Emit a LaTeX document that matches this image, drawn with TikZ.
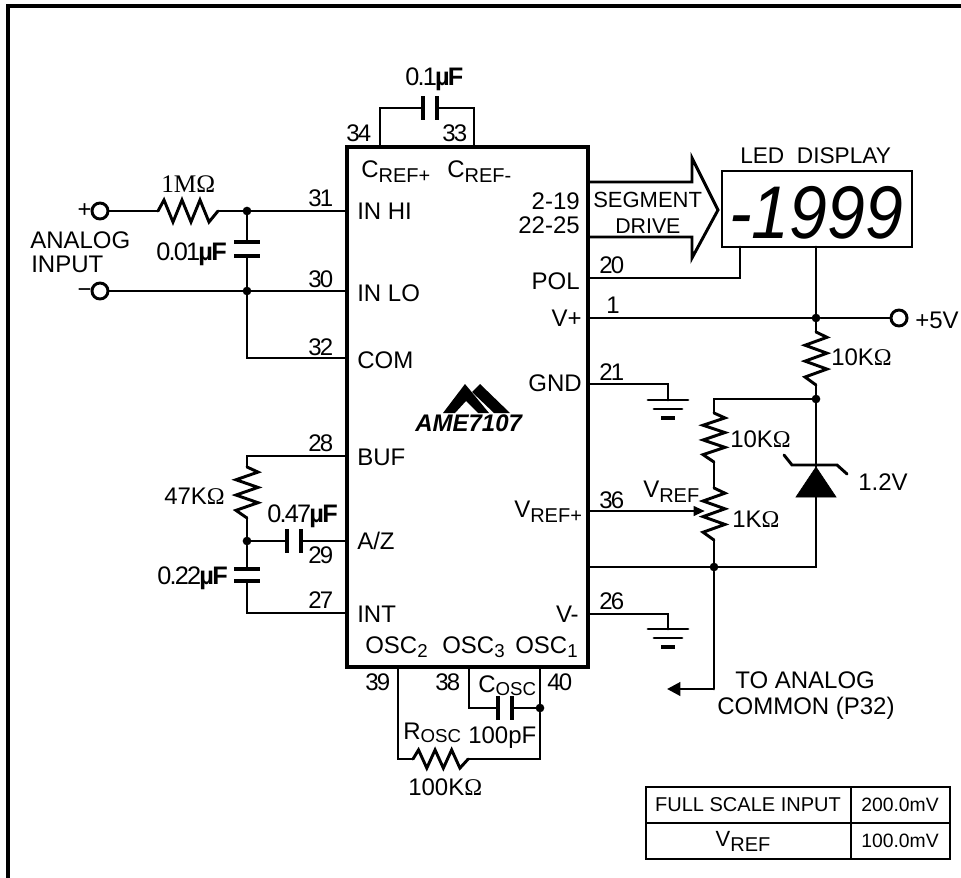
\documentclass[tikz,border=0pt]{standalone}
\usepackage{fontspec}
\usetikzlibrary{arrows.meta}
\setmainfont{Liberation Sans}
\newfontfamily\ohmfont{Liberation Serif}
\newfontfamily\tightfont[LetterSpace=-7]{Liberation Sans}
\newcommand{\ohmsign}{{\ohmfont Ω}}
\newcommand{\lowtext}[1]{\raisebox{-3.75pt}{\fontsize{15}{15}\selectfont #1}}
\newcommand{\osctext}[1]{\raisebox{-2.25pt}{\fontsize{14}{14}\selectfont #1}}
\newcommand{\digitsub}[1]{\raisebox{-3pt}{\fontsize{14}{14}\selectfont #1}}
\tikzset{
	wire/.style={line width=2.2pt,line cap=round,line join=miter},
	framewire/.style={line width=3pt},
	chipbox/.style={line width=3.25pt},
	platewire/.style={line width=2.4pt},
	junction/.style={circle,fill=black,inner sep=0pt,minimum size=6.5pt},
	terminal/.style={circle,draw,line width=2.2pt,fill=white,inner sep=0pt,minimum size=12pt},
	label/.style={anchor=base west,inner sep=0pt,font=\fontsize{18}{18}\selectfont},
	rlabel/.style={anchor=base east,inner sep=0pt,font=\fontsize{18}{18}\selectfont},
	pinlabel/.style={anchor=base west,inner sep=0pt,font=\fontsize{18}{18}\tightfont},
	caplabel/.style={anchor=base west,inner sep=0pt,font=\fontsize{19}{19}\tightfont},
	tablelabel/.style={inner sep=0pt,font=\fontsize{14.5}{14.5}\selectfont},
	reszig/.pic={\draw [wire] (0,0) -- (6,11) -- (15,-11) -- (24,11) -- (33,-11) -- (42,11) -- (51,-11) -- (60,0);},
	groundsym/.pic={
		\draw [wire] (-20,0) -- (20,0);
		\draw [wire] (-14,-9) -- (14,-9);
		\draw [line width=2.75pt] (-7,-18) -- (7,-18);
	},
}
\begin{document}
\begin{tikzpicture}[x=0.75pt,y=0.75pt,yscale=-1,xscale=1]
	\useasboundingbox (0,0) rectangle (961,878);

	%Frame, open at right and bottom
	\coordinate (framebl) at (8,878);
	\coordinate (frametl) at (8,6);
	\coordinate (frametr) at (961,6);
	\draw [framewire] (framebl) -- (frametl) -- (frametr);

	%Chip
	\coordinate (chipnw) at (347,147);
	\coordinate (chipse) at (588,667);
	\draw [chipbox] (chipnw) rectangle (chipse);

	%Pin ends on the chip and corners of the wires
	\foreach \nm/\x/\y in {p31/347/211,p30/347/291,p32/347/358,p28/347/456,p29/347/541,p27/347/613,
		p34/380/147,p33/474/147,c34/380/108,c33/474/108,
		p39/398/667,p38/469/667,p40/540/667,c39/398/759,c40/540/759,c38/469/708,
		p20/588/278,p1/588/318,p21/588/384,p36/588/511,p0/588/567,p26/588/614,
		segt/588/182,segb/588/237,
		r1a/158/211,r1b/218/211,r47a/247/467,r47b/247/518,c28/247/456,c27/247/613,
		rosca/413/759,roscb/468/759,
		led20/740/247,c20/740/278,ledv/816/247,
		r10a/816/332,r10b/816/385,c10/714/399,r10c/714/413,r10d/714/462,
		r1ka/714/488,r1kb/714/540,wiper/705/511,
		c0/816/567,ca/714/689,atip/667/689,
		g21/668/400,c21/668/384,g26/668/629,c26/668/614,
		zenera/816/467,zenerb/816/497}
		\coordinate (\nm) at (\x,\y);

	%Junctions and terminals
	\node [junction] (jin) at (247,211) {};
	\node [junction] (jlo) at (247,291) {};
	\node [junction] (jaz) at (247,541) {};
	\node [junction] (josc) at (540,708) {};
	\node [junction] (jvp) at (816,318) {};
	\node [junction] (jref) at (816,399) {};
	\node [junction] (jcom) at (714,567) {};
	\node [terminal] (tplus) at (100,211) {};
	\node [terminal] (tminus) at (100,291) {};
	\node [terminal] (tfive) at (899,318) {};

	%Input side
	\draw [wire] (tplus) -- (r1a);
	\pic at (r1a) {reszig};
	\draw [wire] (r1b) -- (jin) -- (p31);
	\draw [wire] (tminus) -- (jlo) -- (p30);
	\coordinate (capina) at (247,242);
	\coordinate (capinb) at (247,256);
	\draw [wire] (jin) -- (capina);
	\draw [wire] (capinb) -- (jlo);
	\draw [platewire] (234,242) -- (260,242) (234,256) -- (260,256);
	\draw [wire] (jlo) |- (p32);

	%Reference capacitor
	\coordinate (capta) at (423,108);
	\coordinate (captb) at (437,108);
	\draw [wire] (p34) -- (c34) -- (capta);
	\draw [wire] (captb) -- (c33) -- (p33);
	\draw [platewire] (423,96) -- (423,120) (437,96) -- (437,120);

	%Integrator side
	\draw [wire] (p28) -- (c28) -- (r47a);
	\pic [rotate=-90,scale=0.85,yscale=1.18] at (r47a) {reszig};
	\draw [wire] (r47b) -- (jaz);
	\coordinate (capza) at (287,541);
	\coordinate (capzb) at (301,541);
	\draw [wire] (jaz) -- (capza);
	\draw [wire] (capzb) -- (p29);
	\draw [platewire] (287,529) -- (287,553) (301,529) -- (301,553);
	\coordinate (capia) at (247,569);
	\coordinate (capib) at (247,581);
	\draw [wire] (jaz) -- (capia);
	\draw [wire] (capib) -- (c27) -- (p27);
	\draw [platewire] (234,569) -- (260,569) (234,581) -- (260,581);

	%Oscillator
	\draw [wire] (p39) -- (c39) -- (rosca);
	\pic [scale=0.92,yscale=0.9] at (rosca) {reszig};
	\draw [wire] (roscb) -- (c40) -- (josc) -- (p40);
	\coordinate (capoa) at (498,708);
	\coordinate (capob) at (512,708);
	\draw [wire] (p38) -- (c38) -- (capoa);
	\draw [wire] (capob) -- (josc);
	\draw [platewire] (498,696) -- (498,720) (512,696) -- (512,720);

	%Segment drive arrow and display
	\draw [wire,line join=miter] (segt) -- (692,182) -- (692,158) -- (718,210) -- (692,258) -- (692,237) -- (segb);
	\coordinate (lednw) at (722,171);
	\coordinate (ledse) at (912,247);
	\draw [wire,line cap=butt] (lednw) rectangle (ledse);
	\draw [wire] (p20) -- (c20) -- (led20);

	%Supply and reference
	\draw [wire] (ledv) -- (jvp);
	\draw [wire] (p1) -- (jvp) -- (tfive);
	\draw [wire] (jvp) -- (r10a);
	\pic [rotate=-90,scale=0.883,yscale=1.13] at (r10a) {reszig};
	\draw [wire] (r10b) -- (jref);
	\draw [wire] (jref) -- (c10) -- (r10c);
	\pic [rotate=-90,scale=0.817,yscale=1.22] at (r10c) {reszig};
	\draw [wire] (r10d) -- (r1ka);
	\pic [rotate=-90,scale=0.867,yscale=1.15] at (r1ka) {reszig};
	\draw [wire] (r1kb) -- (jcom);
	\draw [wire] (jref) -- (zenera);
	\draw [wire] (zenerb) -- (c0) -- (p0);
	\draw [fill=black,line width=0.5pt] (zenera) -- (836,497) -- (796,497) -- cycle;
	\draw [wire] (784,455) -- (792,465) -- (837,465) -- (847,474);
	\draw [wire,-{Triangle[length=8.5pt,width=7pt]}] (p36) -- (wiper);
	\draw [wire] (jcom) -- (ca);
	\draw [wire,line cap=butt,-{Triangle[length=10pt,width=10pt]}] (ca) -- (atip);

	%Grounds
	\draw [wire] (p21) -- (c21) -- (g21);
	\pic at (g21) {groundsym};
	\draw [wire] (p26) -- (c26) -- (g26);
	\pic at (g26) {groundsym};

	%Logo
	\fill (443,413) -- (465,384) -- (489,413) -- (478,413) -- (466,401) -- (455,413) -- cycle;
	\fill (472,392) -- (480,384) -- (510,413) -- (494,413) -- cycle;

	%Table
	\coordinate (tablenw) at (646,787);
	\coordinate (tablese) at (950,859);
	\coordinate (tablemt) at (851,787);
	\coordinate (tablemb) at (851,859);
	\coordinate (tableml) at (646,823);
	\coordinate (tablemr) at (950,823);
	\draw [wire,line cap=butt] (tablenw) rectangle (tablese);
	\draw [wire,line cap=butt] (tablemt) -- (tablemb);
	\draw [wire,line cap=butt] (tableml) -- (tablemr);

	% Text Node
	\node [caplabel] (txtcapt) at (405,85) {0.1\textbf{µF}};
	\node [pinlabel] (txt34) at (346,141) {34};
	\node [pinlabel] (txt33) at (442,141) {33};
	\node [label] (txtcrefp) at (361,177) {C\lowtext{REF+}};
	\node [label] (txtcrefm) at (447,177) {C\lowtext{REF-}};
	\node [label] (txtinhi) at (357,219) {IN HI};
	\node [label] (txtinlo) at (357,301) {IN LO};
	\node [label] (txtcom) at (357,368) {COM};
	\node [label] (txtbuf) at (357,465) {BUF};
	\node [label] (txtaz) at (357,549) {A/Z};
	\node [label] (txtint) at (357,622) {INT};
	\node [label] (txtosctwo) at (365,653) {OSC\digitsub{2}};
	\node [label] (txtoscthree) at (442,653) {OSC\digitsub{3}};
	\node [label] (txtoscone) at (515,653) {OSC\digitsub{1}};
	\node [pinlabel] (txt39) at (365,690) {39};
	\node [pinlabel] (txt38) at (435,690) {38};
	\node [pinlabel] (txt40) at (547,690) {40};
	\node [label] (txtcosc) at (478,692) {C\osctext{OSC}};
	\node [label] (txtrosc) at (403,739) {R\osctext{OSC}};
	\node [label] (txtcval) at (468,743) {100pF};
	\node [label] (txtrval) at (408,795) {100K\ohmsign};
	\node [label] (txt47k) at (164,504) {47K\ohmsign};
	\node [caplabel] (txtcaz) at (267,522) {0.47\textbf{µF}};
	\node [pinlabel] (txt29) at (308,563) {29};
	\node [caplabel] (txtcint) at (157,584) {0.22\textbf{µF}};
	\node [pinlabel] (txt28) at (308,451) {28};
	\node [pinlabel] (txt27) at (308,608) {27};
	\node [pinlabel] (txt31) at (308,206) {31};
	\node [pinlabel] (txt30) at (308,287) {30};
	\node [pinlabel] (txt32) at (308,355) {32};
	\node [label,font=\fontsize{19}{19}\ohmfont] (txt1m) at (161,192) {1MΩ};
	\node [caplabel] (txtcin) at (156,260) {0.01\textbf{µF}};
	\node [label] (txtanalog) at (30,248) {ANALOG};
	\node [label] (txtinput) at (31,272) {INPUT};
	\node [rlabel] (txtplus) at (92,217) {+};
	\node [rlabel] (txtminus) at (92,297) {−};
	\node [rlabel] (txtsegtop) at (580,209) {2-19};
	\node [rlabel] (txtsegbot) at (580,233) {22-25};
	\node [rlabel] (txtpol) at (580,289) {POL};
	\node [rlabel] (txtvp) at (582,326) {V+};
	\node [rlabel] (txtgnd) at (582,391) {GND};
	\node [label] (txtvrefp) at (514,517) {V\lowtext{REF+}};
	\node [rlabel] (txtvm) at (579,622) {V-};
	\node [pinlabel] (txt20) at (599,273) {20};
	\node [pinlabel] (txt1) at (606,313) {1};
	\node [pinlabel] (txt21) at (599,380) {21};
	\node [pinlabel] (txt36) at (599,508) {36};
	\node [pinlabel] (txt26) at (599,609) {26};
	\node [label] (txtvref) at (643,497) {V\lowtext{REF}};
	\node [label,font=\fontsize{16.5}{16.5}\selectfont] (txtsegment) at (593,207) {SEGMENT};
	\node [label,font=\fontsize{16}{16}\selectfont] (txtdrive) at (615,233) {DRIVE};
	\node [label,font=\fontsize{17}{17}\selectfont] (txtled) at (740,163) {LED\ \ DISPLAY};
	\node [anchor=base west,inner sep=0pt,font=\fontsize{56}{56}\selectfont\itshape] (txtdigits) at (729,238) {\scalebox{0.91}[1]{-1999}};
	\node [label] (txt10ka) at (831,365) {10K\ohmsign};
	\node [label] (txt10kb) at (730,447) {10K\ohmsign};
	\node [label] (txt1k) at (732,527) {1K\ohmsign};
	\node [label] (txt12v) at (858,490) {1.2V};
	\node [label] (txtfive) at (915,328) {+5V};
	\node [label] (txttoan) at (735,688) {TO ANALOG};
	\node [label] (txtcommon) at (717,714) {COMMON (P32)};
	\node [anchor=base west,inner sep=0pt,font=\fontsize{18}{18}\selectfont\bfseries\itshape] (txtlogo) at (415,431) {AME7107};
	\node [tablelabel,font=\fontsize{15}{15}\selectfont] (txtfull) at (748,805) {FULL\ SCALE\ INPUT};
	\node [tablelabel] (txt200) at (900,805) {200.0mV};
	\node [tablelabel,font=\fontsize{16.5}{16.5}\selectfont] (txttabvref) at (743,841) {V\lowtext{REF}};
	\node [tablelabel] (txt100) at (900,841) {100.0mV};
\end{tikzpicture}
\end{document}
